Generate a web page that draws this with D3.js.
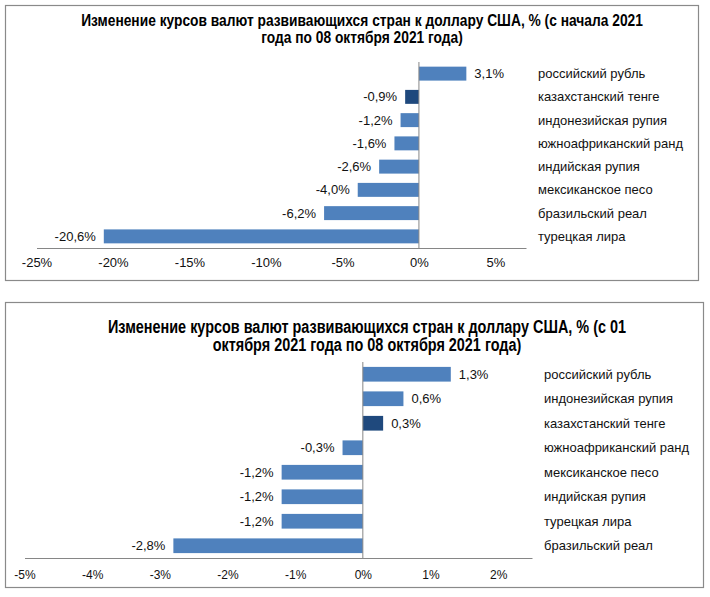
<!DOCTYPE html>
<html>
<head>
<meta charset="utf-8">
<script src="https://cdn.jsdelivr.net/npm/d3@7"></script>
<style>
  html, body { margin: 0; padding: 0; background: #fff; }
  svg { display: block; }
</style>
</head>
<body>
<svg id="chart" width="710" height="597"></svg>
<script>
// ---- Data ----
const title1 = ["Изменение курсов валют развивающихся стран к доллару США, % (с начала 2021", "года по 08 октября 2021 года)"];
const categories1 = ["российский рубль", "казахстанский тенге", "индонезийская рупия", "южноафриканский ранд", "индийская рупия", "мексиканское песо", "бразильский реал", "турецкая лира"];
const values1 = [3.1, -0.9, -1.2, -1.6, -2.6, -4.0, -6.2, -20.6];
const ticks1 = [-25, -20, -15, -10, -5, 0, 5];

const title2 = ["Изменение курсов валют развивающихся стран к доллару США, % (с 01", "октября 2021 года по 08 октября 2021 года)"];
const categories2 = ["российский рубль", "индонезийская рупия", "казахстанский тенге", "южноафриканский ранд", "мексиканское песо", "индийская рупия", "турецкая лира", "бразильский реал"];
const values2 = [1.3, 0.6, 0.3, -0.3, -1.2, -1.2, -1.2, -2.8];
const ticks2 = [-5, -4, -3, -2, -1, 0, 1, 2];

const highlight = "казахстанский тенге";

// ---- Drawing ----
const svg = d3.select("#chart");
const BAR = "#4f81bd", BAR_HI = "#1f497d", AXIS = "#868686", BORDER = "#8a8a8a";
const fmtVal = v => v.toFixed(1).replace(".", ",") + "%";
const fmtTick = v => String(v) + "%";

function panel(cfg) {
  const g = svg.append("g");
  g.append("rect")
    .attr("x", cfg.box[0] + 0.5).attr("y", cfg.box[1] + 0.5)
    .attr("width", cfg.box[2] - cfg.box[0]).attr("height", cfg.box[3] - cfg.box[1])
    .attr("fill", "#fff").attr("stroke", BORDER).attr("stroke-width", 1.2);

  // title: emulate a narrow bold face by horizontal compression
  g.append("g")
    .attr("transform", `translate(${cfg.titleX},${cfg.titleY}) scale(0.82,1)`)
    .append("text")
    .attr("text-anchor", "middle")
    .attr("font-family", "'Liberation Sans', Arial, sans-serif")
    .attr("font-weight", "bold").attr("font-size", cfg.titleSize).attr("fill", "#000")
    .selectAll("tspan").data(cfg.title).join("tspan")
    .attr("x", 0).attr("dy", (d, i) => i === 0 ? 0 : cfg.titleLead)
    .text(d => d);

  const x = d3.scaleLinear().domain(cfg.domain).range(cfg.xRange);
  const y = d3.scaleBand().domain(cfg.categories).range(cfg.yRange)
    .paddingInner(0.4).paddingOuter(0.2);

  const data = cfg.categories.map((c, i) => ({ c, v: cfg.values[i] }));

  g.selectAll("rect.bar").data(data).join("rect")
    .attr("class", "bar")
    .attr("x", d => x(Math.min(0, d.v)))
    .attr("width", d => Math.abs(x(d.v) - x(0)))
    .attr("y", d => y(d.c))
    .attr("height", y.bandwidth())
    .attr("fill", d => d.c === highlight ? BAR_HI : BAR);

  // axis
  const axis = d3.axisBottom(x).tickValues(cfg.ticks).tickFormat(fmtTick)
    .tickSize(0).tickSizeOuter(0).tickPadding(cfg.tickPad);
  const ax = g.append("g").attr("transform", `translate(0,${cfg.yRange[1]})`).call(axis);
  ax.select(".domain").attr("stroke", AXIS).attr("stroke-width", 1);
  ax.selectAll("text").attr("font-family", "'Liberation Sans', Arial, sans-serif")
    .attr("font-size", cfg.tickSize).attr("fill", "#111");

  // zero line
  g.append("line")
    .attr("x1", x(0)).attr("x2", x(0))
    .attr("y1", cfg.yRange[0]).attr("y2", cfg.yRange[1])
    .attr("stroke", AXIS).attr("stroke-width", 1);

  // value labels
  g.selectAll("text.val").data(data).join("text")
    .attr("class", "val")
    .attr("x", d => d.v >= 0 ? x(d.v) + 8 : x(d.v) - 8)
    .attr("y", d => y(d.c) + y.bandwidth() / 2)
    .attr("dy", "0.35em")
    .attr("text-anchor", d => d.v >= 0 ? "start" : "end")
    .attr("font-family", "'Liberation Sans', Arial, sans-serif")
    .attr("font-size", 13).attr("fill", "#111")
    .text(d => fmtVal(d.v));

  // category labels on the right
  g.selectAll("text.cat").data(data).join("text")
    .attr("class", "cat")
    .attr("x", cfg.xRange[1] + 12)
    .attr("y", d => y(d.c) + y.bandwidth() / 2)
    .attr("dy", "0.35em")
    .attr("font-family", "'Liberation Sans', Arial, sans-serif")
    .attr("font-size", 13).attr("fill", "#111")
    .text(d => d.c);
}

panel({
  box: [5, 5, 698, 280],
  title: title1, titleX: 362, titleY: 26, titleLead: 17.5, titleSize: 16.8,
  categories: categories1, values: values1, ticks: ticks1,
  domain: [-25, 7], xRange: [36.5, 526],
  yRange: [62, 248], tickPad: 10, tickSize: 13
});

panel({
  box: [5, 302, 703, 587],
  title: title2, titleX: 367, titleY: 333, titleLead: 18, titleSize: 17.6,
  categories: categories2, values: values2, ticks: ticks2,
  domain: [-5, 2.5], xRange: [24.5, 532],
  yRange: [362, 558], tickPad: 12, tickSize: 12
});
</script>
</body>
</html>
